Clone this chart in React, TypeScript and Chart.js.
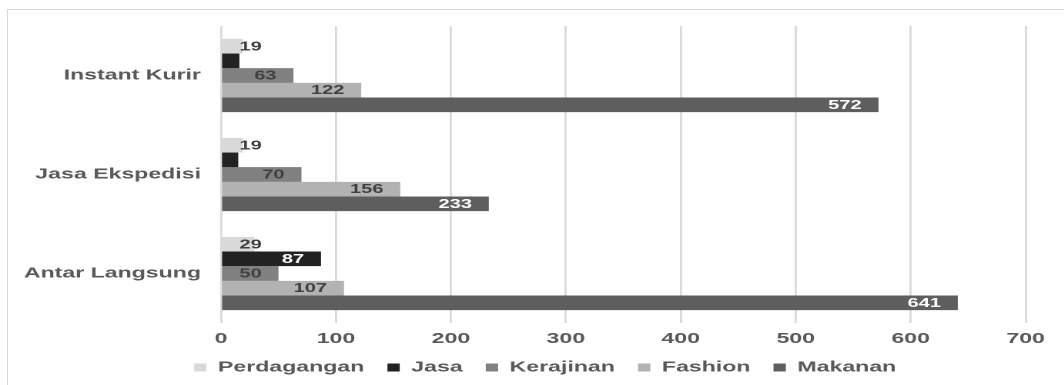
import React, { useEffect, useRef } from "react";
import { Chart, registerables } from "chart.js";

Chart.register(...registerables);

// Delivery methods (one row group per method)
const categories = ["Instant Kurir", "Jasa Ekspedisi", "Antar Langsung"];

// Business types, in the order they appear inside each group
const seriesNames = ["Perdagangan", "Jasa", "Kerajinan", "Fashion", "Makanan"];
const perdagangan = [19, 19, 29];
const jasa = [16, 15, 87];
const kerajinan = [63, 70, 50];
const fashion = [122, 156, 107];
const makanan = [572, 233, 641];

const xTicks = [0, 100, 200, 300, 400, 500, 600, 700];

const seriesColors = ["#d9d9d9", "#222222", "#808080", "#b2b2b2", "#5e5e5e"];
const labelColors = ["#404040", "#ffffff", "#404040", "#404040", "#ffffff"];

// The whole drawing is widened horizontally by this factor
const STRETCH = 1.54;
const PAGE_W = 1064;
const PAGE_H = 385;
const CANVAS_W = Math.round(PAGE_W / STRETCH);

const FONT = "'Liberation Sans', Arial, sans-serif";

// Value labels placed just inside the end of each bar
const valueLabels = {
  id: "valueLabels",
  afterDatasetsDraw(chart: any) {
    const ctx = chart.ctx;
    const xScale = chart.scales.x;
    const base = xScale.getPixelForValue(0);
    ctx.save();
    ctx.font = `bold 13px ${FONT}`;
    ctx.textAlign = "right";
    ctx.textBaseline = "middle";
    chart.data.datasets.forEach((ds: any, di: number) => {
      const meta = chart.getDatasetMeta(di);
      meta.data.forEach((bar: any, i: number) => {
        const text = String(ds.data[i]);
        const w = ctx.measureText(text).width;
        const right = Math.max(bar.x - 11, base + 12 + w);
        ctx.fillStyle = labelColors[di];
        ctx.fillText(text, right, bar.y + 0.5);
      });
    });
    ctx.restore();
  },
};

// Nudge the legend row so it is centred under the plot area
const legendShift = {
  id: "legendShift",
  afterLayout(chart: any) {
    const lg = chart.legend;
    if (!lg) return;
    const shift = 21;
    lg.left += shift;
    lg.right += shift;
  },
};

export default function App() {
  const canvasRef = useRef<HTMLCanvasElement | null>(null);

  useEffect(() => {
    if (!canvasRef.current) return;
    const seriesData = [perdagangan, jasa, kerajinan, fashion, makanan];
    const chart = new Chart(canvasRef.current, {
      type: "bar",
      data: {
        labels: categories,
        datasets: seriesNames.map((name, i) => ({
          label: name,
          data: seriesData[i],
          backgroundColor: seriesColors[i],
          borderWidth: 0,
          categoryPercentage: 0.74,
          barPercentage: 1,
        })),
      },
      options: {
        indexAxis: "y",
        animation: false,
        responsive: false,
        devicePixelRatio: 2,
        layout: { padding: { top: 26, left: 0, right: 25, bottom: 0 } },
        plugins: {
          legend: {
            position: "bottom",
            labels: {
              boxWidth: 8,
              boxHeight: 8,
              padding: 15,
              color: "#595959",
              font: { family: FONT, size: 15, weight: "bold" },
            },
          },
          tooltip: { enabled: false },
        },
        scales: {
          x: {
            min: 0,
            max: 700,
            afterBuildTicks: (scale: any) => {
              scale.ticks = xTicks.map((v) => ({ value: v }));
            },
            afterFit: (scale: any) => {
              scale.height = 22;
            },
            grid: { color: "#d9d9d9", lineWidth: 1.4, drawTicks: false },
            border: { display: false },
            ticks: {
              padding: 7,
              color: "#595959",
              font: { family: FONT, size: 15, weight: "bold" },
            },
          },
          y: {
            afterFit: (scale: any) => {
              scale.width = 143.5;
            },
            grid: { display: false, drawTicks: false },
            border: { display: false },
            ticks: {
              padding: 13,
              color: "#595959",
              font: { family: FONT, size: 15, weight: "bold" },
            },
          },
        },
      },
      plugins: [valueLabels, legendShift],
    });
    return () => chart.destroy();
  }, []);

  return (
    <div
      style={{
        position: "fixed",
        left: 0,
        top: 0,
        width: PAGE_W,
        height: PAGE_H,
        overflow: "hidden",
        background: "#ffffff",
      }}
    >
      <div
        style={{
          position: "absolute",
          left: 7,
          top: 9,
          width: PAGE_W + 40,
          height: PAGE_H + 40,
          border: "1px solid #d9d9d9",
        }}
      />
      <div
        style={{
          position: "absolute",
          left: 0,
          top: 0,
          width: CANVAS_W,
          height: PAGE_H,
          transform: `scaleX(${STRETCH})`,
          transformOrigin: "0 0",
        }}
      >
        <canvas
          ref={canvasRef}
          width={CANVAS_W}
          height={PAGE_H}
          style={{ width: CANVAS_W, height: PAGE_H }}
        />
      </div>
    </div>
  );
}
